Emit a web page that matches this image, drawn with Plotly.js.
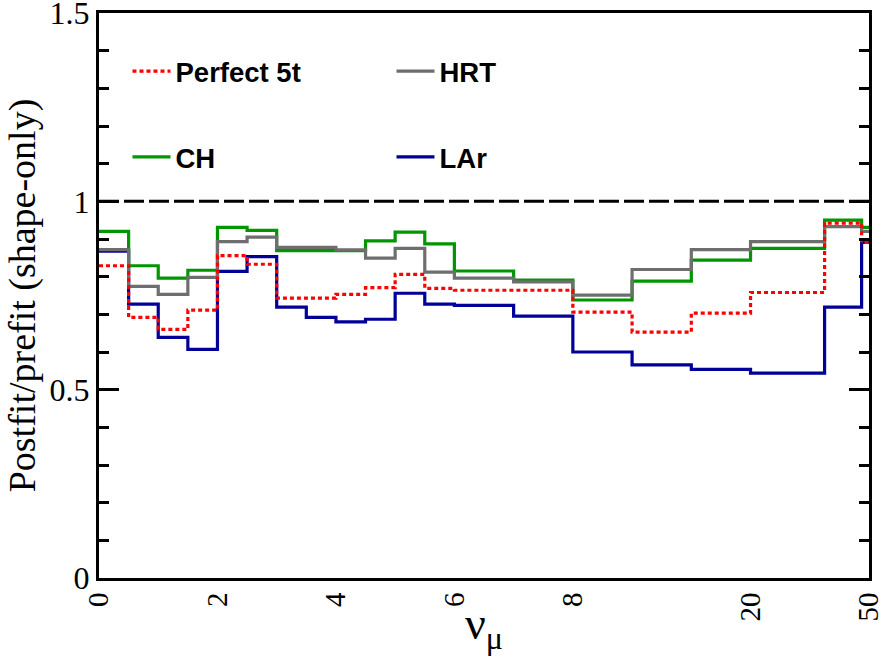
<!DOCTYPE html>
<html>
<head>
<meta charset="utf-8">
<script src="https://cdn.plot.ly/plotly-3.0.1.min.js"></script>
<style>
  html, body { margin: 0; padding: 0; background: #fff; }
  #chart { width: 896px; height: 672px; }
</style>
</head>
<body>
<div id="chart"></div>
<script>
// bin edges in display units (the x axis is not linear in energy)
var binEdges = [0, 1, 2, 3, 4, 5, 6, 7, 8, 9, 10, 11, 12, 14, 16, 18, 20, 22, 24.5, 25.75, 26];
var tickPos = [0, 4, 8, 12, 16, 22, 26];
var tickLabels = ["0", "2", "4", "6", "8", "20", "50"];
var yTickVals = [0, 0.5, 1, 1.5];
var yTickLabels = ["0", "0.5", "1", "1.5"];

// postfit / prefit ratio per bin
var perfect5t = [0.829, 0.692, 0.660, 0.711, 0.856, 0.833, 0.743, 0.743, 0.753, 0.771,
                 0.806, 0.769, 0.764, 0.764, 0.706, 0.653, 0.703, 0.758, 0.942, 0.891];
var hrt = [0.872, 0.774, 0.753, 0.798, 0.893, 0.905, 0.878, 0.878, 0.871, 0.849,
           0.875, 0.812, 0.796, 0.786, 0.751, 0.819, 0.872, 0.893, 0.933, 0.920];
var ch = [0.920, 0.829, 0.796, 0.817, 0.931, 0.923, 0.869, 0.869, 0.869, 0.895,
          0.918, 0.887, 0.815, 0.791, 0.738, 0.788, 0.844, 0.875, 0.950, 0.931];
var lar = [0.868, 0.727, 0.639, 0.607, 0.814, 0.853, 0.719, 0.692, 0.680, 0.687,
           0.756, 0.727, 0.724, 0.695, 0.600, 0.566, 0.554, 0.544, 0.719, 0.891];

// histogram step: repeat last value at the closing edge
function steps(vals) {
	return vals.concat([vals[vals.length - 1]]);
}

function histTrace(name, vals, color, dash, legend, rank) {
	return {
		x: binEdges,
		y: steps(vals),
		name: name,
		type: "scatter",
		mode: "lines",
		line: { shape: "hv", color: color, width: 3.2, dash: dash },
		legend: legend,
		legendrank: rank,
	};
}

var refLine = {
	x: [binEdges[0], binEdges[binEdges.length - 1]],
	y: [1, 1],
	type: "scatter",
	mode: "lines",
	line: { color: "#000", width: 3, dash: "20px,5px" },
	showlegend: false,
	hoverinfo: "skip",
};

var data = [
	refLine,
	histTrace("LAr", lar, "#000099", "solid", "legend2", 2),
	histTrace("CH", ch, "#009600", "solid", "legend2", 1),
	histTrace("HRT", hrt, "#6e6e6e", "solid", "legend", 2),
	histTrace("Perfect 5t", perfect5t, "#ff0000", "4px,3px", "legend", 1),
];

var legendFont = { family: "Liberation Sans", size: 27.5, color: "#000", weight: "bold" };

var layout = {
	width: 896,
	height: 672,
	margin: { l: 99, r: 27, t: 13, b: 94 },
	paper_bgcolor: "#fff",
	plot_bgcolor: "#fff",
	font: { family: "Liberation Serif", color: "#000" },
	xaxis: {
		range: [0, 26],
		tickvals: tickPos,
		ticktext: tickLabels,
		tickangle: -90,
		ticks: "",
		tickfont: { family: "Liberation Serif", size: 29 },
		ticklabeloverflow: "allow",
		showgrid: false,
		zeroline: false,
		showline: true,
		linewidth: 3,
		linecolor: "#000",
		mirror: true,
	},
	yaxis: {
		range: [0, 1.5],
		tickvals: yTickVals,
		ticktext: yTickLabels,
		ticks: "inside",
		ticklen: 20,
		tickwidth: 3,
		tickcolor: "#000",
		minor: { dtick: 0.1, ticks: "inside", ticklen: 10, tickwidth: 3, tickcolor: "#000", showgrid: false },
		tickfont: { family: "Liberation Serif", size: 32 },
		ticklabeloverflow: "allow",
		showgrid: false,
		zeroline: false,
		showline: true,
		linewidth: 3,
		linecolor: "#000",
		mirror: "ticks",
		title: {
			text: "Postfit/prefit (shape-only)",
			font: { family: "Liberation Serif", size: 38 },
			standoff: 3,
		},
	},
	annotations: [
		{
			text: "ν<sub>μ</sub>",
			xref: "paper",
			yref: "paper",
			x: 0.5,
			y: -0.032,
			xanchor: "center",
			yanchor: "top",
			showarrow: false,
			font: { family: "Liberation Serif", size: 46, color: "#000" },
		},
	],
	legend: {
		orientation: "h",
		x: 0.037,
		y: 0.897,
		xanchor: "left",
		yanchor: "middle",
		entrywidth: 211,
		itemwidth: 38,
		bgcolor: "rgba(0,0,0,0)",
		font: legendFont,
	},
	legend2: {
		orientation: "h",
		x: 0.037,
		y: 0.745,
		xanchor: "left",
		yanchor: "middle",
		entrywidth: 211,
		itemwidth: 38,
		bgcolor: "rgba(0,0,0,0)",
		font: legendFont,
	},
	showlegend: true,
};

Plotly.newPlot("chart", data, layout, { displayModeBar: false, staticPlot: true });
</script>
</body>
</html>
